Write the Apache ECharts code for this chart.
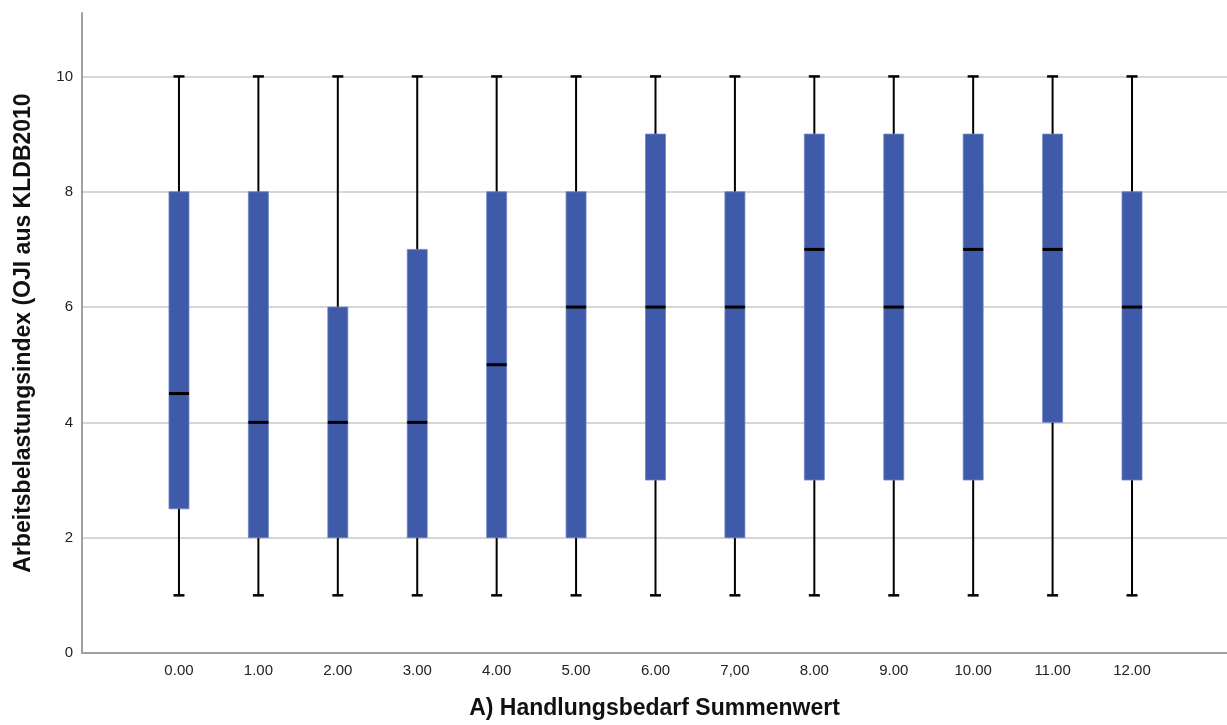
<!DOCTYPE html>
<html>
<head>
<meta charset="utf-8">
<script src="https://cdn.jsdelivr.net/npm/echarts@6/dist/echarts.min.js"></script>
<style>html,body{margin:0;padding:0;background:#fff;}#chart{width:1227px;height:725px;}</style>
</head>
<body>
<div id="chart"></div>
<script>
const categories = ["0.00","1.00","2.00","3.00","4.00","5.00","6.00","7,00","8.00","9.00","10.00","11.00","12.00"];
const whiskerLow  = [1,1,1,1,1,1,1,1,1,1,1,1,1];
const q1Values    = [2.5,2,2,2,2,2,3,2,3,3,3,4,3];
const medians     = [4.5,4,4,4,5,6,6,6,7,6,7,7,6];
const q3Values    = [8,8,6,7,8,8,9,8,9,9,9,9,8];
const whiskerHigh = [10,10,10,10,10,10,10,10,10,10,10,10,10];
const yTicks = [0,2,4,6,8,10];
const xTitle = "A) Handlungsbedarf Summenwert";
const yTitle = "Arbeitsbelastungsindex (OJI aus KLDB2010";

const data = categories.map((c,i)=>[i, whiskerLow[i], q1Values[i], medians[i], q3Values[i], whiskerHigh[i]]);
const chart = echarts.init(document.getElementById('chart'), null, {renderer:'canvas'});
const BOX_W = 20, CAP_W = 11;
const FONT = 'Liberation Sans, Arial, sans-serif';
chart.setOption({
  animation:false,
  backgroundColor:'#fff',
  grid:{left:82,right:0,top:13,bottom:70,containLabel:false},
  xAxis:{
    type:'value', min:-1.221, max:13.196,
    name:xTitle, nameLocation:'middle', nameGap:44,
    nameTextStyle:{fontFamily:FONT, fontSize:23, fontWeight:'bold', color:'#111'},
    axisLine:{show:true, onZero:false, lineStyle:{color:'#a0a0a0', width:2}},
    axisTick:{show:false},
    splitLine:{show:false},
    axisLabel:{customValues:categories.map((c,i)=>i), formatter:v=>categories[Math.round(v)], color:'#222', fontFamily:FONT, fontSize:15, margin:10}
  },
  yAxis:{
    type:'value', min:0, max:11.1,
    name:yTitle, nameLocation:'middle', nameGap:47,
    nameTextStyle:{fontFamily:FONT, fontSize:23, fontWeight:'bold', color:'#111'},
    axisLine:{show:true, onZero:false, lineStyle:{color:'#a0a0a0', width:2}},
    axisTick:{show:false},
    axisLabel:{customValues:yTicks, color:'#222', fontFamily:FONT, fontSize:15, margin:9},
    splitLine:{show:true, showMinLine:false, showMaxLine:false, lineStyle:{color:'#c8c8c8', width:1.5}}
  },
  series:[{
    type:'custom',
    data:data,
    encode:{x:0, y:[1,2,3,4,5]},
    renderItem:function(params, api){
      const x = api.value(0);
      const pMin = api.coord([x, api.value(1)]);
      const pQ1 = api.coord([x, api.value(2)]);
      const pMed = api.coord([x, api.value(3)]);
      const pQ3 = api.coord([x, api.value(4)]);
      const pMax = api.coord([x, api.value(5)]);
      const cx = pMin[0];
      const black = {stroke:'#000', lineWidth:2};
      return {type:'group', children:[
        {type:'line', shape:{x1:cx,y1:pMin[1],x2:cx,y2:pMax[1]}, style:black},
        {type:'line', shape:{x1:cx-CAP_W/2,y1:pMin[1],x2:cx+CAP_W/2,y2:pMin[1]}, style:{stroke:'#000',lineWidth:2.5}},
        {type:'line', shape:{x1:cx-CAP_W/2,y1:pMax[1],x2:cx+CAP_W/2,y2:pMax[1]}, style:{stroke:'#000',lineWidth:2.5}},
        {type:'rect', shape:{x:cx-BOX_W/2, y:pQ3[1], width:BOX_W, height:pQ1[1]-pQ3[1]}, style:{fill:'#3f5aa8', stroke:'#6f86c4', lineWidth:0.8}},
        {type:'line', shape:{x1:cx-BOX_W/2,y1:pMed[1],x2:cx+BOX_W/2,y2:pMed[1]}, style:{stroke:'#000',lineWidth:3}}
      ]};
    }
  }]
});
</script>
</body>
</html>
